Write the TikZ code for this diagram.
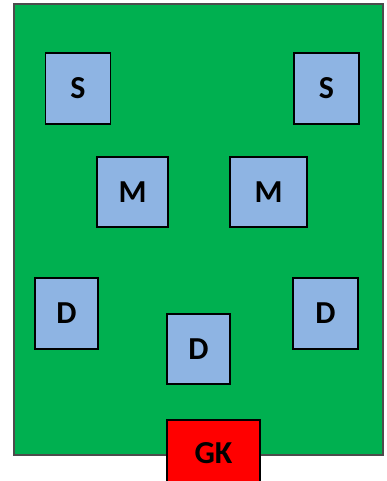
\documentclass[tikz,border=0pt]{standalone}
\usepackage{fontspec}
\setmainfont{Carlito}
\usepackage{xcolor}
\definecolor{pitchgreen}{RGB}{0,176,80}
\definecolor{playerblue}{RGB}{142,180,227}
\definecolor{keeperred}{RGB}{255,0,0}
\usetikzlibrary{positioning}

\begin{document}
\begin{tikzpicture}[x=1pt,y=-1pt,
  player/.style={draw,fill=playerblue,line width=1.3pt,inner sep=0pt,font=\fontsize{32}{34}\selectfont\bfseries},
  keeper/.style={draw,fill=keeperred,line width=1.3pt,inner sep=0pt,font=\fontsize{32}{34}\selectfont\bfseries}]
  \useasboundingbox (0,0) rectangle (386,481);
  \clip (0,0) rectangle (386,481);
  % pitch
  \draw[fill=pitchgreen,draw=black!70,line width=1.3pt] (14,4) rectangle (383,455);
  % strikers
  \node[player,minimum width=65pt,minimum height=71pt] (S1) at (78,88.5) {S};
  \node[player,minimum width=65pt,minimum height=71pt] (S2) at (326.5,88.5) {S};
  % midfield
  \node[player,minimum width=71pt,minimum height=70pt] (M1) at (132.5,192) {M};
  \node[player,minimum width=77pt,minimum height=70pt] (M2) at (268.5,192) {M};
  % defence
  \node[player,minimum width=63pt,minimum height=71pt] (D1) at (66.5,313.5) {D};
  \node[player,minimum width=63pt,minimum height=70pt] (D2) at (198.5,349) {D};
  \node[player,minimum width=65pt,minimum height=71pt] (D3) at (325.5,313.5) {D};
  % goalkeeper
  \node[keeper,minimum width=93pt,minimum height=66pt] (GK) at (213.5,453) {GK};
\end{tikzpicture}
\end{document}
